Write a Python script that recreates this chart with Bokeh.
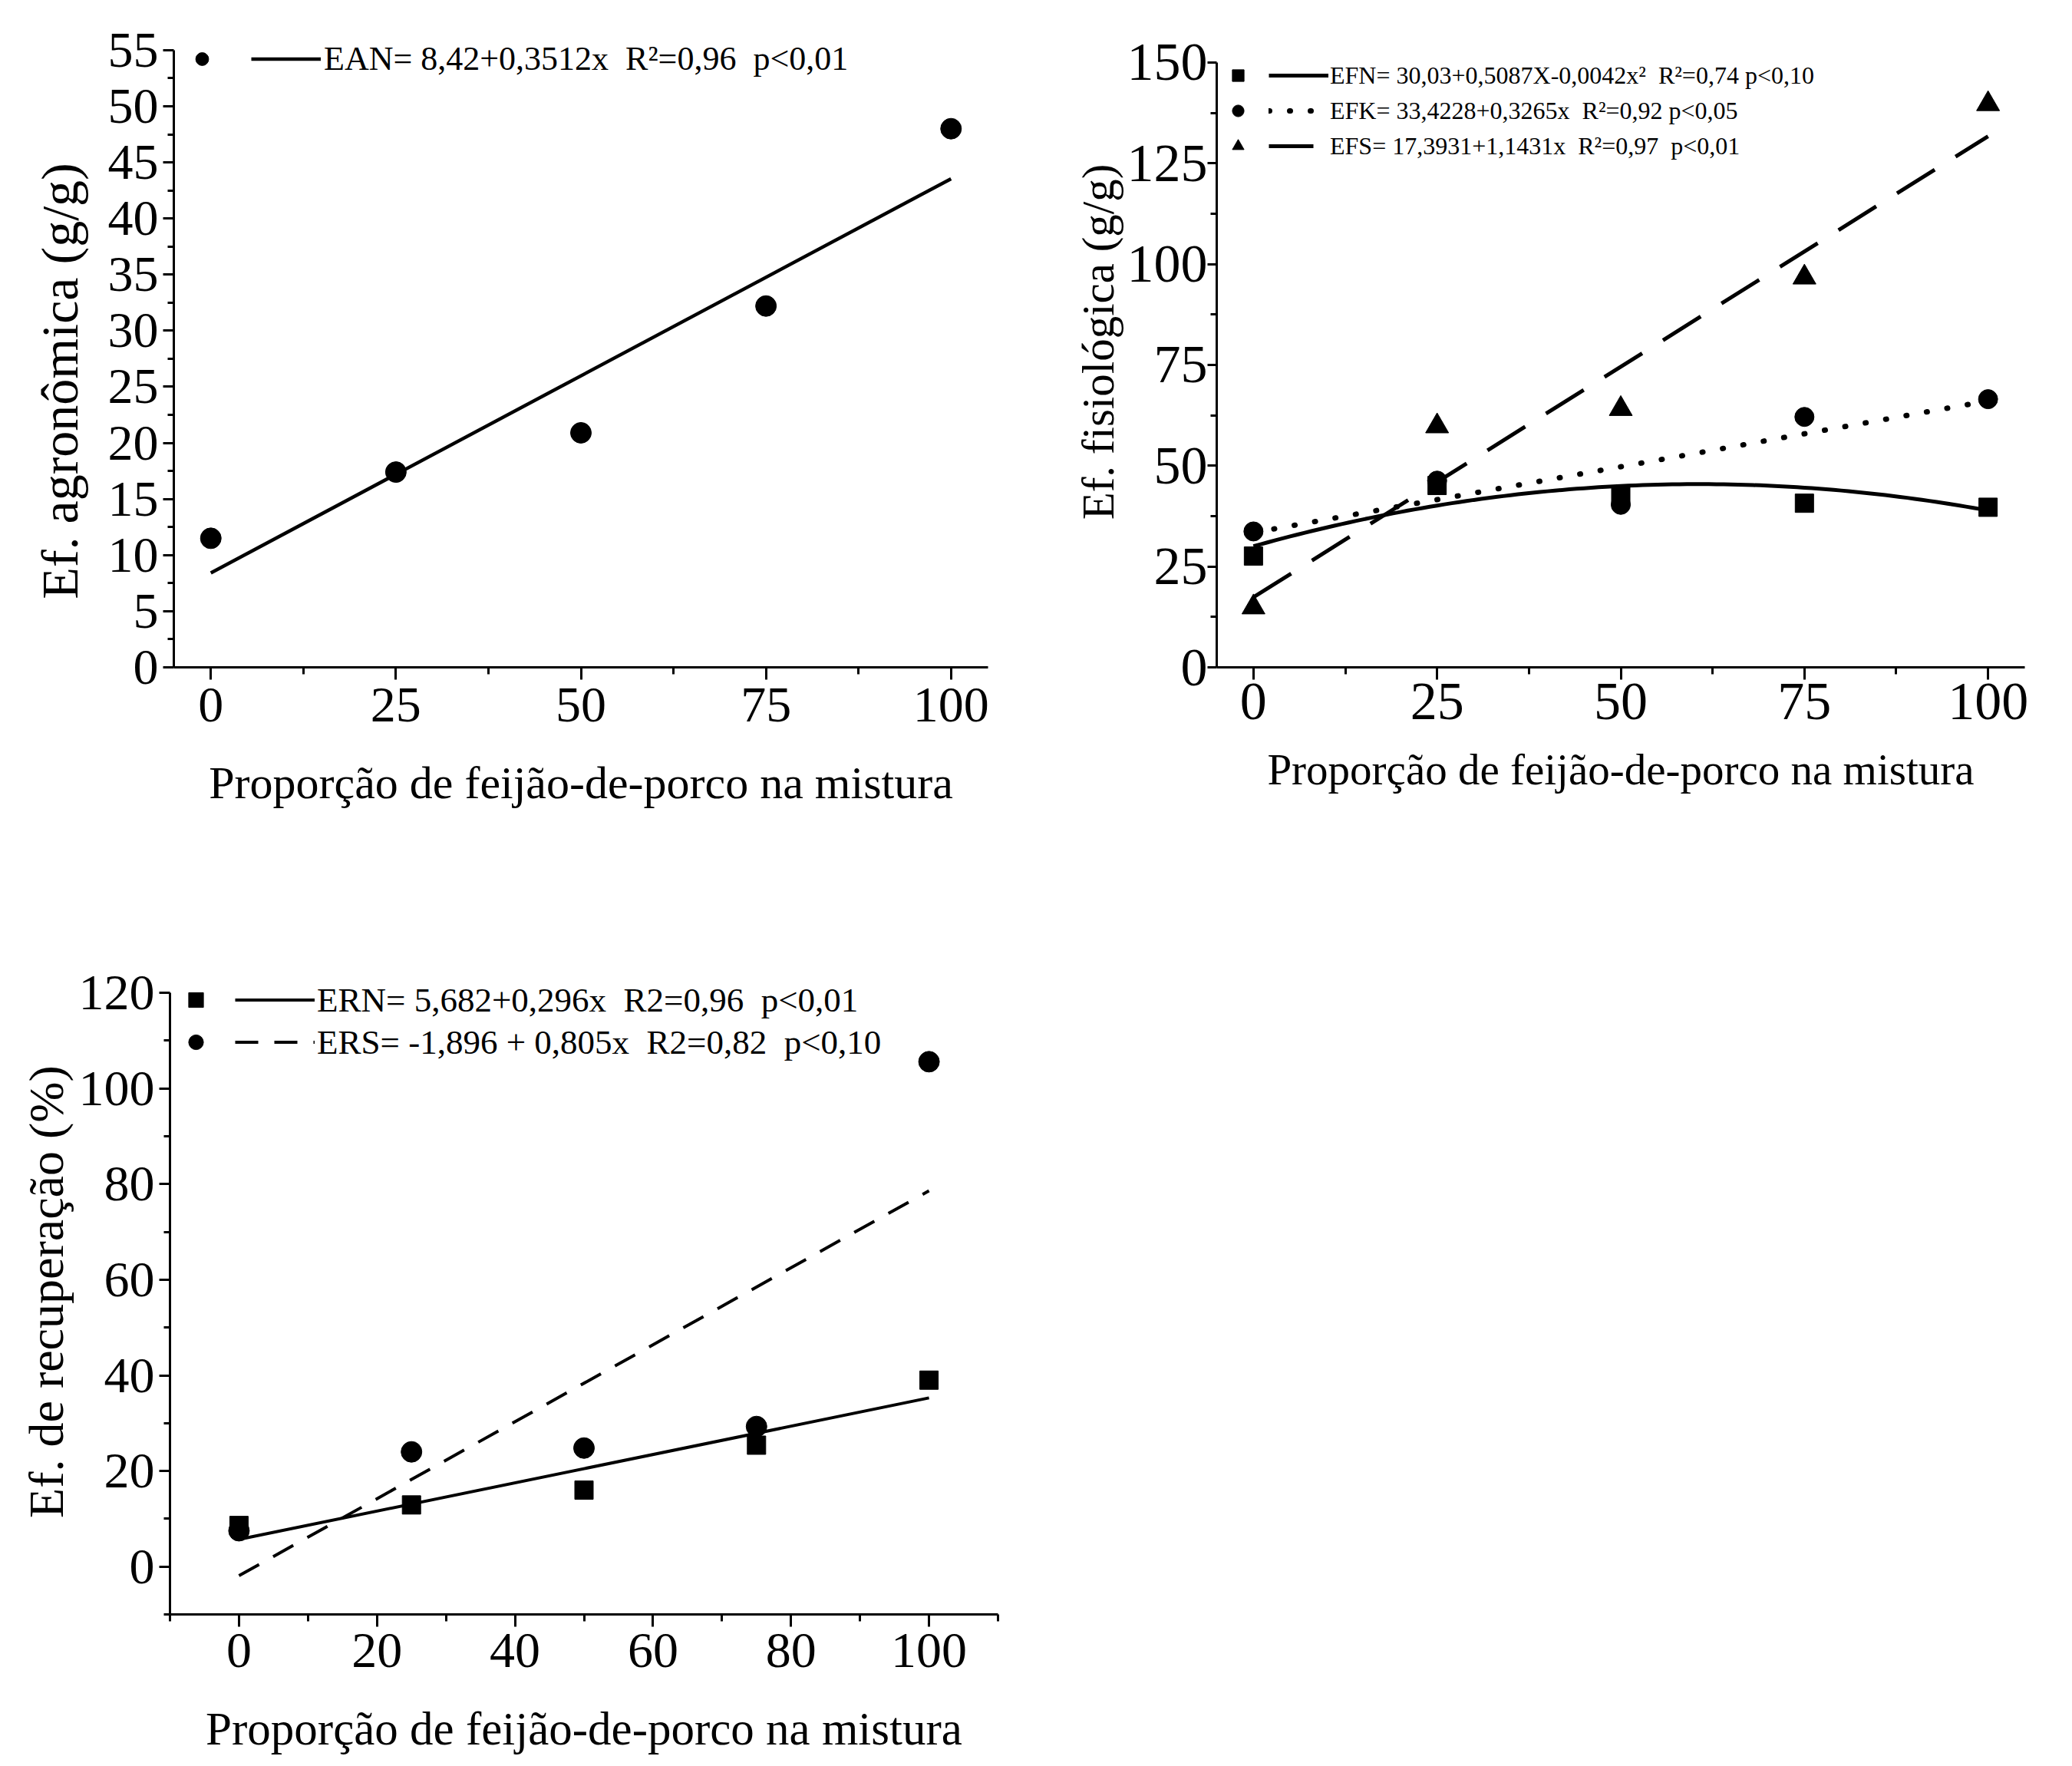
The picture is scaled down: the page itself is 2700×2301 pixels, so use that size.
import numpy as np
from bokeh.plotting import figure
from bokeh.models import Range1d, FixedTicker, Legend, LegendItem
from bokeh.layouts import column, row
from bokeh.embed import file_html
from bokeh.resources import INLINE

FONT = "Liberation Serif"

# ---------------- data ----------------
x_levels = [0, 25, 50, 75, 100]

# panel 1 - agronomic efficiency
ean = [11.5, 17.4, 20.9, 32.2, 48.0]
ean_coef = [8.42, 0.3512]

# panel 2 - physiological efficiency
efn = [27.6, 45.1, 42.5, 40.7, 39.7]
efk = [33.7, 46.3, 40.3, 62.1, 66.5]
efs = [14.9, 59.8, 64.1, 96.7, 139.7]
efn_coef = [30.03, 0.5087, -0.0042]
efk_coef = [33.4228, 0.3265]
efs_coef = [17.3931, 1.1431]

# panel 3 - recovery efficiency
ern = [8.6, 12.9, 16.0, 25.4, 39.0]
ers = [7.5, 24.0, 24.8, 29.3, 105.6]
ern_coef = [5.682, 0.296]
ers_coef = [-1.896, 0.805]

xlabel = "Proporção de feijão-de-porco na mistura"
ylab1 = "Ef. agronômica (g/g)"
ylab2 = "Ef. fisiológica (g/g)"
ylab3 = "Ef. de recuperação (%)"

leg1 = ["EAN= 8,42+0,3512x  R²=0,96  p<0,01"]
leg2 = ["EFN= 30,03+0,5087X-0,0042x²  R²=0,74 p<0,10",
        "EFK= 33,4228+0,3265x  R²=0,92 p<0,05",
        "EFS= 17,3931+1,1431x  R²=0,97  p<0,01"]
leg3 = ["ERN= 5,682+0,296x  R2=0,96  p<0,01",
        "ERS= -1,896 + 0,805x  R2=0,82  p<0,10"]

x1_ticks = [0, 25, 50, 75, 100]
x1_minor = [12.5, 37.5, 62.5, 87.5]
y1_ticks = list(range(0, 56, 5))
y1_minor = [v + 2.5 for v in range(0, 55, 5)]
y2_ticks = [0, 25, 50, 75, 100, 125, 150]
y2_minor = [12.5, 37.5, 62.5, 87.5, 112.5, 137.5]
x3_ticks = [0, 20, 40, 60, 80, 100]
x3_minor = [-10, 10, 30, 50, 70, 90, 110]
y3_ticks = [0, 20, 40, 60, 80, 100, 120]
y3_minor = [-10, 10, 30, 50, 70, 90, 110]


def lin(coef, xs):
    return [coef[0] + coef[1] * v for v in xs]


def quad(coef, xs):
    return [coef[0] + coef[1] * v + coef[2] * v * v for v in xs]


def make_fig(width, height, bl, br, bt, bb, xr, yr):
    p = figure(width=width, height=height, output_backend="svg", toolbar_location=None,
               title=None, x_range=Range1d(*xr), y_range=Range1d(*yr),
               min_border_left=bl, min_border_right=br, min_border_top=bt, min_border_bottom=bb)
    p.outline_line_color = None
    p.grid.visible = False
    p.background_fill_color = "white"
    p.border_fill_color = "white"
    return p


def style_axes(p, xt, xm, yt, ym, xl, yl, ybounds, xts, xls, yls, yts=6, ytick_out=14,
               tick_size="66px", xlab_size="62px", ylab_size="62px"):
    p.xaxis.ticker = FixedTicker(ticks=xt, minor_ticks=xm)
    p.yaxis.ticker = FixedTicker(ticks=yt, minor_ticks=ym)
    p.yaxis.bounds = ybounds
    p.xaxis.axis_label = xl
    p.yaxis.axis_label = yl
    for ax in (p.xaxis[0], p.yaxis[0]):
        ax.axis_line_width = 3
        ax.axis_line_color = "black"
        ax.major_tick_line_width = 3
        ax.minor_tick_line_width = 3
        ax.major_tick_line_color = "black"
        ax.minor_tick_line_color = "black"
        ax.major_tick_in = 0
        ax.minor_tick_in = 0
        ax.major_label_text_font = FONT
        ax.major_label_text_font_size = tick_size
        ax.major_label_text_color = "black"
        ax.axis_label_text_font = FONT
        ax.axis_label_text_font_style = "normal"
        ax.axis_label_text_color = "black"
    p.xaxis.axis_label_text_font_size = xlab_size
    p.yaxis.axis_label_text_font_size = ylab_size
    p.xaxis.major_tick_out = 16
    p.xaxis.minor_tick_out = 9
    p.yaxis.major_tick_out = ytick_out
    p.yaxis.minor_tick_out = 8
    p.xaxis.major_label_standoff = xts
    p.yaxis.major_label_standoff = yts
    p.xaxis.axis_label_standoff = xls
    p.yaxis.axis_label_standoff = yls


def add_legends(p, markers, lines, labels, loc_y, mx, mw, lx, lw, gh, fsize, standoff):
    m_items = [LegendItem(label=" ", renderers=[r]) for r in markers]
    l_items = [LegendItem(label=t, renderers=[r]) for t, r in zip(labels, lines)]
    common = dict(padding=0, margin=0, spacing=0, border_line_color=None,
                  background_fill_alpha=0, label_text_font=FONT,
                  label_text_font_size=fsize, label_text_color="black",
                  glyph_height=gh, label_height=10, label_width=0)
    lm = Legend(items=m_items, location=(mx, loc_y), glyph_width=mw, label_standoff=0, **common)
    ll = Legend(items=l_items, location=(lx, loc_y), glyph_width=lw, label_standoff=standoff, **common)
    p.add_layout(lm)
    p.add_layout(ll)


# ---------------- panel 1 ----------------
p1 = make_fig(1340, 1100, 226, 53, 21, 231, (-5, 105), (0, 58.0))
# trailing no-break spaces move the (vertical) title slightly down, as in the original
style_axes(p1, x1_ticks, x1_minor, y1_ticks, y1_minor, xlabel, ylab1 + "\u00a0" * 6, (0, 55),
           11, 44, 22, xlab_size="60px", ylab_size="68px")
fx1 = [0, 100]
l1 = p1.line(fx1, lin(ean_coef, fx1), line_color="black", line_width=4.5)
s1 = p1.scatter(x_levels, ean, marker="circle", size=27, color="black")
add_legends(p1, [s1], [l1], leg1, 766, 16, 42, 101, 91, 53, "44px", 4)

# ---------------- panel 2 ----------------
p2 = make_fig(1338, 1100, 245, 40, 21, 231, (-5, 105), (0, 161.4))
style_axes(p2, x1_ticks, x1_minor, y2_ticks, y2_minor, xlabel, ylab2, (0, 150),
           5, 31, 2, yts=0, ytick_out=12, tick_size="70px", xlab_size="57px", ylab_size="59px")
fx2 = list(np.linspace(0, 100, 101))
l2a = p2.line(fx2, quad(efn_coef, fx2), line_color="black", line_width=5)
l2b = p2.line([0, 100], lin(efk_coef, [0, 100]), line_color="black", line_width=7,
              line_dash="1 26", line_cap="round")
l2c = p2.line([0, 100], lin(efs_coef, [0, 100]), line_color="black", line_width=5,
              line_dash="58 32")
s2a = p2.scatter(x_levels, efn, marker="square", size=24, color="black")
s2b = p2.scatter(x_levels, efk, marker="circle", size=25, color="black")
s2c = p2.scatter(x_levels, efs, marker="triangle", size=30, color="black")
add_legends(p2, [s2a, s2b, s2c], [l2a, l2b, l2c], leg2, 656, 9, 38, 68, 78, 46, "32px", 2)

# ---------------- panel 3 ----------------
p3 = make_fig(1340, 1200, 221, 40, 162, 197, (-10, 110), (-10, 125))
style_axes(p3, x3_ticks, x3_minor, y3_ticks, y3_minor, xlabel, ylab3, (-10, 120),
           9, 44, 4, xlab_size="61px", ylab_size="64px")
fx3 = [0, 100]
l3a = p3.line(fx3, lin(ern_coef, fx3), line_color="black", line_width=4)
l3b = p3.line(fx3, lin(ers_coef, fx3), line_color="black", line_width=4, line_dash="30 21")
s3a = p3.scatter(x_levels, ern, marker="square", size=24, color="black")
s3b = p3.scatter(x_levels, ers, marker="circle", size=27, color="black")
add_legends(p3, [s3a, s3b], [l3a, l3b], leg3, 718, 10, 48, 85, 104, 55, "45px", 3)

layout = column(row(p1, p2, spacing=0), p3, spacing=0)
open("out.html", "w").write(file_html(layout, INLINE))
